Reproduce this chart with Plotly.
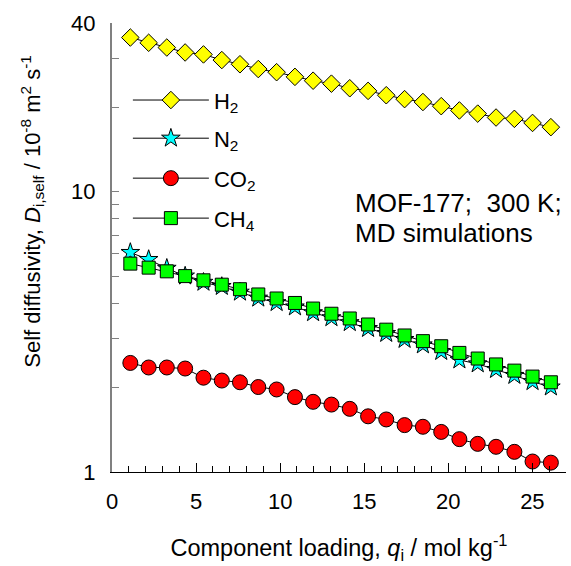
import plotly.graph_objects as go

# Component loadings, mol/kg (same loadings for every guest)
loading = [1.09, 2.18, 3.26, 4.35, 5.44, 6.53, 7.61, 8.70, 9.79, 10.88, 11.96, 13.05,
           14.14, 15.23, 16.31, 17.40, 18.49, 19.58, 20.66, 21.75, 22.84, 23.93, 25.01, 26.10]

# Self diffusivities, 1e-8 m2/s
d_h2 = [35.5, 34.0, 32.7, 31.4, 30.9, 29.5, 28.5, 27.4, 26.7, 25.7, 24.9, 24.3,
        23.4, 22.9, 22.1, 21.4, 20.9, 20.2, 19.5, 19.0, 18.4, 18.2, 17.6, 17.0]
d_n2 = [6.07, 5.73, 5.33, 5.00, 4.75, 4.59, 4.38, 4.17, 4.02, 3.88, 3.70, 3.55,
        3.41, 3.25, 3.12, 2.97, 2.84, 2.69, 2.51, 2.43, 2.32, 2.21, 2.10, 2.01]
d_co2 = [2.45, 2.36, 2.36, 2.34, 2.17, 2.12, 2.09, 2.01, 1.97, 1.85, 1.78, 1.74,
         1.68, 1.58, 1.54, 1.47, 1.45, 1.39, 1.31, 1.26, 1.23, 1.18, 1.09, 1.08]
d_ch4 = [5.54, 5.36, 5.20, 5.00, 4.83, 4.66, 4.49, 4.30, 4.16, 4.01, 3.83, 3.67,
         3.53, 3.36, 3.22, 3.07, 2.93, 2.81, 2.66, 2.54, 2.42, 2.30, 2.19, 2.09]

y_tickvals = [1, 2, 3, 4, 5, 6, 7, 8, 9, 10, 20, 30, 40]
y_ticktext = ["1", "", "", "", "", "", "", "", "", "10", "", "", "40"]

FONT = "Arial, Liberation Sans, sans-serif"

# name, values, symbol, fill colour, marker size, legend id, legend row (paper y)
series = [
    ("H<sub>2</sub>", d_h2, "diamond", "#FFFF00", 13.5, "legend", 0.828),
    ("N<sub>2</sub>", d_n2, "star", "#00FFFF", 14, "legend2", 0.743),
    ("CO<sub>2</sub>", d_co2, "circle", "#FF0000", 15, "legend3", 0.654),
    ("CH<sub>4</sub>", d_ch4, "square", "#00FF00", 13, "legend4", 0.565),
]

fig = go.Figure()
legend_layout = {}
for name, vals, sym, col, sz, leg, ly in series:
    fig.add_trace(go.Scatter(
        x=loading, y=vals, mode="lines+markers", name=name, legend=leg,
        line=dict(color="black", width=1),
        marker=dict(symbol=sym, size=sz, color=col,
                    line=dict(color="black", width=1)),
    ))
    legend_layout[leg] = dict(
        x=0.035, y=ly, xanchor="left", yanchor="middle",
        bgcolor="rgba(0,0,0,0)", itemwidth=76,
        font=dict(family=FONT, size=22, color="black"),
    )

fig.add_annotation(
    x=0.531, y=0.599, xref="paper", yref="paper", xanchor="left", yanchor="middle",
    text="MOF-177;  300 K;", showarrow=False, align="left",
    font=dict(family=FONT, size=26, color="black"),
)
fig.add_annotation(
    x=0.531, y=0.532, xref="paper", yref="paper", xanchor="left", yanchor="middle",
    text="MD simulations", showarrow=False, align="left",
    font=dict(family=FONT, size=26, color="black"),
)

# y-axis title placed as a rotated annotation
fig.add_annotation(
    x=-0.176, y=0.58, xref="paper", yref="paper", xanchor="center", yanchor="middle",
    textangle=-90, showarrow=False,
    text="Self diffusivity, <i>D</i><sub>i,self</sub> / 10<sup>-8</sup> m<sup>2</sup> s<sup>-1</sup>",
    font=dict(family=FONT, size=22, color="black"),
)

fig.update_layout(
    width=571, height=566,
    margin=dict(l=112, r=5, t=23, b=94),
    paper_bgcolor="white", plot_bgcolor="white",
    font=dict(family=FONT, size=22, color="black"),
    showlegend=True,
    **legend_layout,
    xaxis=dict(
        range=[0, 27], showgrid=False, zeroline=False,
        showline=True, linecolor="black", linewidth=1,
        tickmode="linear", tick0=0, dtick=5,
        ticks="inside", ticklen=9, tickcolor="black", tickwidth=1,
        minor=dict(dtick=1, ticks="inside", ticklen=6, tickcolor="black"),
        ticklabelstandoff=10,
        title=dict(text="Component loading, <i>q</i><sub>i</sub> / mol kg<sup>-1</sup>",
                   standoff=26, font=dict(size=23.5)),
    ),
    yaxis=dict(
        type="log", range=[0, 1.60206], showgrid=False, zeroline=False,
        showline=True, linecolor="#808080", linewidth=2,
        tickmode="array", tickvals=y_tickvals, ticktext=y_ticktext,
        ticks="inside", ticklen=7, tickcolor="#808080", tickwidth=1,
        ticklabelstandoff=10,
    ),
)

fig.write_html("out.html")
